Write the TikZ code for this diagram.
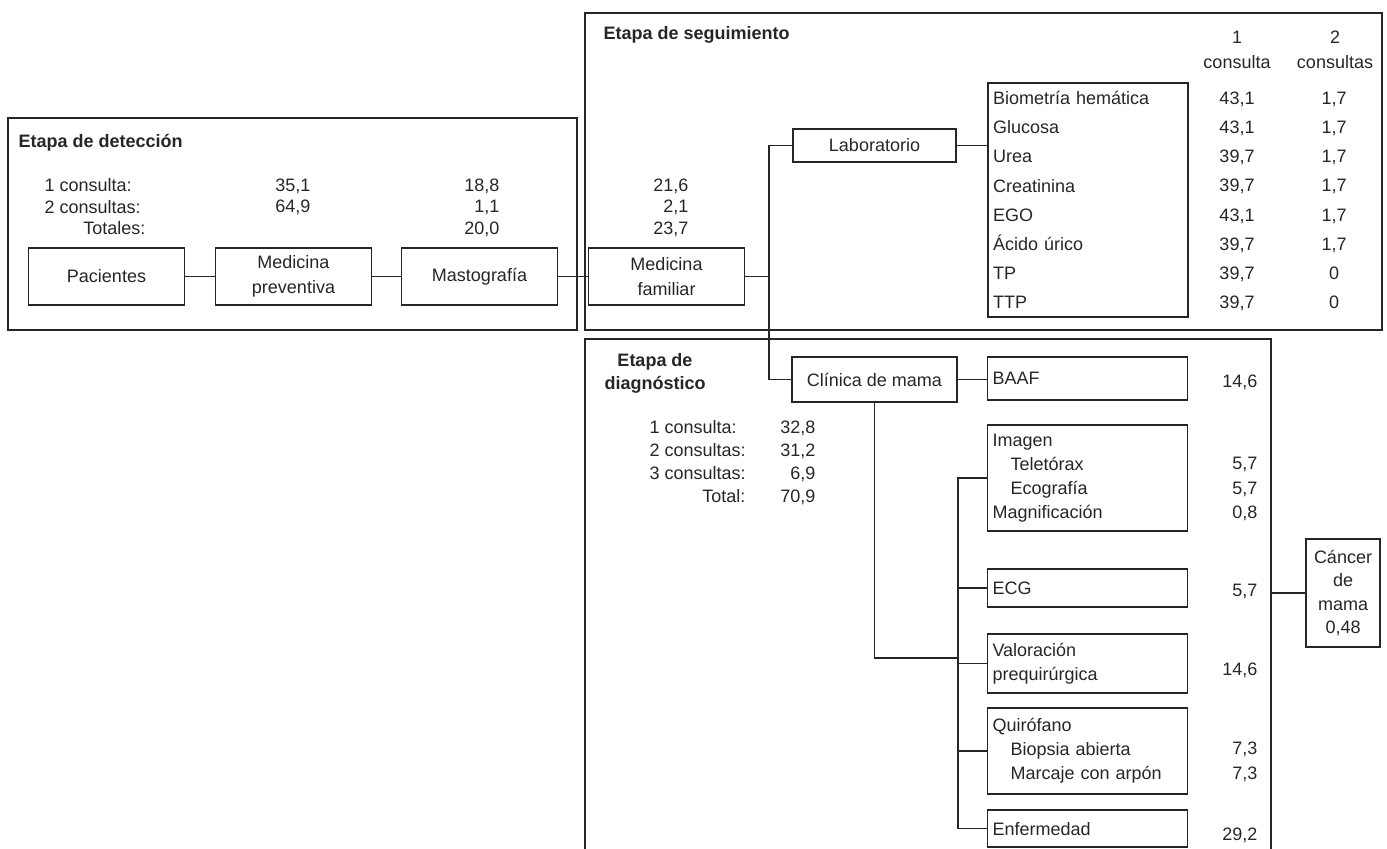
\documentclass[tikz,border=0pt]{standalone}
\usepackage{fontspec}
\setmainfont{Liberation Sans}
\begin{document}
\begin{tikzpicture}[x=0.5pt, y=-0.5pt, line width=0.55pt, color=black!85, font=\fontsize{9}{11}\selectfont]

    % Set the canvas size
    \useasboundingbox (0,0) rectangle (1387,849);

    % Define styles
    \tikzset{
        stepbox/.style={draw, minimum width=78pt, minimum height=28.5pt, inner sep=0pt, align=center, font=\fontsize{9}{12.5}\selectfont},
        itembox/.style={draw, text width=95pt, inner xsep=2.5pt, inner ysep=0pt, align=left, font=\fontsize{9}{12}\selectfont},
        stage/.style={inner sep=0pt, font=\bfseries\fontsize{9}{11.5}\selectfont},
        val/.style={inner sep=0pt, text height=6.5pt, text depth=0pt},
        num/.style={val, anchor=east},
        lbl/.style={val, anchor=west},
    }

    % Stage frames
    \draw (8,118) rectangle (577,330);
    \draw (585,13) rectangle (1382,330);
    \coordinate (dright) at (1271,339);
    \draw (585,849) |- (dright) -- (1271,849);

    \node[stage, anchor=west] (tdet) at (18,143) {Etapa de detección};
    \node[stage, anchor=west] (tseg) at (603,35) {Etapa de seguimiento};
    \node[stage, align=center] (tdia) at (655,373) {Etapa de\\diagnóstico};

    % Detection figures
    \node[lbl] (d1) at (44,185) {1 consulta:};
    \node[lbl] (d2) at (44,207) {2 consultas:};
    \node[num] (d3) at (146,228) {Totales:};
    \foreach \v [count=\i] in {{35,1},{64,9}}
        \node[num] (pac\i) at (311,163.5+21.5*\i) {\v};
    \foreach \v [count=\i] in {{18,8},{1,1},{20,0}}
        \node[num] (mas\i) at (500,163.5+21.5*\i) {\v};
    \foreach \v [count=\i] in {{21,6},{2,1},{23,7}}
        \node[num] (fam\i) at (689,163.5+21.5*\i) {\v};

    % Main chain
    \node[stepbox] (pacientes) at (106.5,276.5) {Pacientes};
    \node[stepbox] (medprev) at (293.5,276.5) {Medicina\\preventiva};
    \node[stepbox] (mastografia) at (479.5,276.5) {Mastografía};
    \node[stepbox] (medfam) at (666.5,276.5) {Medicina\\familiar};
    \node[stepbox, minimum width=81.5pt, minimum height=16.5pt] (lab) at (874.5,145.5) {Laboratorio};
    \node[stepbox, minimum width=82.5pt, minimum height=22.5pt] (clinica) at (874.5,379.5) {Clínica de mama};

    % Follow-up: laboratory tests
    \node[val, align=center, text height=, text depth=, font=\fontsize{9}{12.5}\selectfont] (h1) at (1237,49.5) {1\\consulta};
    \node[val, align=center, text height=, text depth=, font=\fontsize{9}{12.5}\selectfont] (h2) at (1335,49.5) {2\\consultas};
    \node[itembox, font=\fontsize{9}{14.57}\selectfont, minimum height=117pt] (analisis) at (1088,200)
        {Biometría hemática\\Glucosa\\Urea\\Creatinina\\EGO\\Ácido úrico\\TP\\TTP};
    \foreach \a/\b [count=\i] in {{43,1}/{1,7}, {43,1}/{1,7}, {39,7}/{1,7}, {39,7}/{1,7},
                                  {43,1}/{1,7}, {39,7}/{1,7}, {39,7}/0, {39,7}/0} {
        \node[val] (uno\i) at (1237,68.86+29.14*\i) {\a};
        \node[val] (dos\i) at (1334,68.86+29.14*\i) {\b};
    }

    % Diagnosis
    \node[lbl] (c1) at (649,427) {1 consulta:};
    \node[lbl] (c2) at (649,450) {2 consultas:};
    \node[lbl] (c3) at (649,473) {3 consultas:};
    \node[num] (c4) at (746,496) {Total:};
    \foreach \v [count=\i] in {{32,8},{31,2},{6,9},{70,9}}
        \node[num] (cv\i) at (816,404+23*\i) {\v};

    \node[itembox, minimum height=21.5pt] (baaf) at (1087.5,378.5) {BAAF};
    \node[itembox, minimum height=53pt] (imagen) at (1087.5,478)
        {Imagen\\\hspace*{9pt}Teletórax\\\hspace*{9pt}Ecografía\\Magnificación};
    \node[itembox, minimum height=19pt] (ecg) at (1087.5,588) {ECG};
    \node[itembox, minimum height=29.5pt] (valoracion) at (1087.5,663.5) {Valoración\\prequirúrgica};
    \node[itembox, minimum height=43pt] (quirofano) at (1087.5,751)
        {Quirófano\\\hspace*{9pt}Biopsia abierta\\\hspace*{9pt}Marcaje con arpón};
    \node[itembox, minimum height=18.5pt, text depth=-2pt] (enfermedad) at (1087.5,828.5) {Enfermedad};
    \foreach \y/\v [count=\i] in {381/{14,6}, 463/{5,7}, 488/{5,7}, 512/{0,8}, 590/{5,7},
                                  669/{14,6}, 748/{7,3}, 773/{7,3}, 834/{29,2}}
        \node[num] (dv\i) at (1258,\y) {\v};

    \node[stepbox, minimum width=37pt, minimum height=54pt, font=\fontsize{9}{11.8}\selectfont] (cancer) at (1343,593)
        {Cáncer\\de\\mama\\0,48};

    % Connectors
    \draw (pacientes) -- (medprev);
    \draw (medprev) -- (mastografia);
    \draw (mastografia) -- (medfam);
    \coordinate (nudo) at (769,276.5);
    \draw (medfam) -- (nudo);
    \draw (lab) -| (nudo) |- (clinica);
    \draw (lab) -- (lab -| analisis.west);
    \draw (clinica) -- (clinica -| baaf.west);
    \coordinate (bus) at (958,658);
    \draw (clinica) |- (bus);
    \draw (imagen.west) -| (bus) |- (enfermedad.west);
    \foreach \n in {ecg,valoracion,quirofano}
        \draw (\n.west) -- (\n.west -| bus);
    \draw (cancer) -- (cancer -| dright);

\end{tikzpicture}
\end{document}
